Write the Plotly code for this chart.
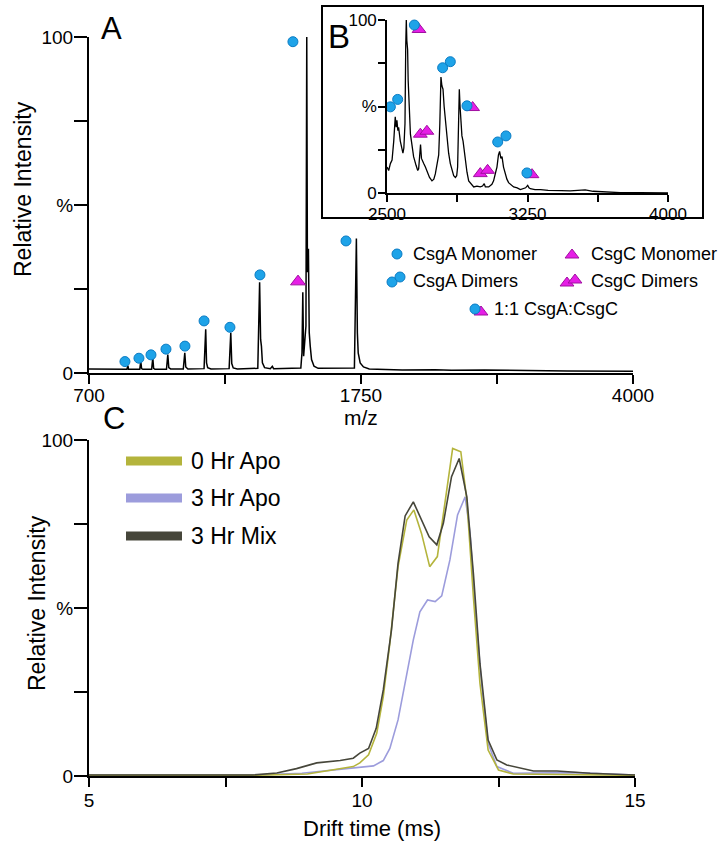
import plotly.graph_objects as go

W, H = 721, 841
FONT = "Liberation Sans, Arial, sans-serif"

# ---------------- Panel A: full mass spectrum ----------------
a_mz = [700, 800, 930, 936, 940, 1008, 1014, 1019, 1026, 1080, 1087, 1092, 1100,
        1170, 1178, 1184, 1195, 1272, 1281, 1287, 1300, 1398, 1408, 1413, 1420, 1440,
        1550, 1560, 1566, 1575, 1600, 1724, 1735, 1741, 1746, 1752, 1765, 1800, 1812, 1820,
        1985, 1992, 1997, 2002, 2010, 2016, 2021, 2025, 2031, 2036, 2042, 2050, 2065, 2090,
        2310, 2322, 2328, 2333, 2345, 2365, 2400, 2600, 2800, 2900, 3100, 3300, 3600, 4000]
a_int = [1.2, 1.1, 1.1, 2.2, 1.1, 1.1, 3.5, 1.3, 1.1, 1.1, 4.5, 1.4, 1.1,
         1.1, 5.5, 1.6, 1.2, 1.2, 6.0, 1.8, 1.2, 1.3, 13.0, 3.0, 1.6, 1.2,
         1.3, 12.0, 2.8, 1.5, 1.2, 1.4, 27.0, 10.0, 8.0, 3.0, 1.6, 1.3, 2.0, 1.3,
         1.5, 6.0, 24.0, 5.0, 10.0, 14.0, 100.0, 30.0, 37.0, 12.0, 8.0, 4.0, 2.0, 1.4,
         1.5, 40.0, 12.0, 6.0, 3.0, 1.8, 1.2, 0.9, 1.0, 0.8, 0.9, 0.7, 0.6, 0.5]
a_mono_mz = [918, 1003, 1076, 1167, 1282, 1398, 1555, 1737, 1937, 2259]
a_mono_int = [3.4, 4.4, 5.4, 7.1, 8.0, 15.5, 13.6, 29.2, 98.6, 39.3]
a_csgc_mz = [1968]
a_csgc_int = [27.2]
a_xticks = [700, 1525, 2350, 3175, 4000]
a_xtext = ["700", "", "1750", "", "4000"]
pct_ticks = [0, 25, 50, 75, 100]
pct_text = ["0", "", "%", "", "100"]

# ---------------- Panel B: inset 2500-4000 ----------------
b_mz = [2500, 2509, 2518, 2527, 2536, 2544, 2549, 2553, 2558, 2562, 2571, 2580, 2585, 2590,
        2596, 2600, 2603, 2606, 2610, 2613, 2616, 2620, 2625, 2633, 2642, 2655, 2664, 2669,
        2674, 2679, 2684, 2690, 2696, 2705, 2713, 2727, 2740, 2750, 2758, 2768, 2776, 2782,
        2788, 2793, 2799, 2805, 2811, 2820, 2829, 2838, 2847, 2856, 2865, 2872, 2877, 2882,
        2886, 2890, 2895, 2900, 2906, 2912, 2918, 2927, 2936, 2950, 2963, 2980, 2998, 3010,
        3019, 3025, 3043, 3060, 3069, 3080, 3087, 3095, 3101, 3108, 3114, 3122, 3132, 3140,
        3149, 3162, 3176, 3195, 3212, 3240, 3251, 3258, 3265, 3290, 3320, 3360, 3390, 3430,
        3478, 3520, 3558, 3600, 3656, 3700, 3745, 3850, 4000]
b_int = [15, 13, 17, 19, 30, 44, 38, 42, 36, 38, 30, 24, 23, 26,
         40, 85, 100, 88, 83, 65, 54, 42, 34, 28, 21, 16, 13, 14,
         22, 28, 20, 18, 17, 15, 13, 9, 7, 8, 11, 16, 22, 40,
         67, 62, 60, 50, 42, 32, 23, 17, 13, 10, 9, 10, 15, 35,
         60, 50, 38, 33, 30, 24, 19, 12, 7, 5, 3.5, 4, 3.5, 4,
         5.4, 3.5, 3.5, 5, 7, 12, 15, 22, 24, 20, 21, 15, 11, 8,
         6, 4.5, 3.5, 3, 2, 3, 4.4, 3, 2.5, 2, 2, 1.5, 1.6, 1.4,
         1.2, 1.5, 1.8, 1.0, 0.6, 0.5, 0.2, 0.2, 0.1]
b_csga_mz = [2518, 2557, 2646, 2797, 2838, 2927, 3091, 3135, 3247]
b_csga_int = [49.8, 54.1, 97.1, 72.4, 75.9, 50.4, 29.5, 33.0, 11.6]
b_csgc_mz = [2671, 2678, 2713, 2957, 2998, 3037, 3274]
b_csgc_int = [94.5, 34.0, 35.7, 49.4, 11.2, 13.1, 10.6]
b_xticks = [2500, 2875, 3250, 3625, 4000]
b_xtext = ["2500", "", "3250", "", "4000"]

# ---------------- Panel C: arrival time distributions ----------------
c_names = ["0 Hr Apo", "3 Hr Apo", "3 Hr Mix"]
c_colors = ["#b4b43c", "#9c9cdc", "#46463a"]
c0_t = [5.0, 8.0, 9.0, 9.47, 9.6, 9.84, 9.96, 10.12, 10.27, 10.39, 10.51, 10.66, 10.82, 10.95,
        11.09, 11.24, 11.38, 11.49, 11.66, 11.81, 11.92, 12.04, 12.16, 12.31, 12.5, 12.77, 13.5, 15.0]
c0_i = [0.2, 0.2, 0.6, 1.8, 2.0, 2.8, 3.9, 6.3, 12.7, 23.6, 39.5, 62.3, 76.2, 79.2,
        72.2, 62.3, 65.3, 78.2, 97.5, 96.5, 82.1, 53.4, 27.6, 7.7, 1.8, 0.6, 0.4, 0.2]
c1_t = [5.0, 8.0, 8.9, 9.6, 10.0, 10.21, 10.39, 10.51, 10.66, 10.82, 10.94, 11.06, 11.2, 11.34,
        11.46, 11.61, 11.75, 11.89, 11.98, 12.07, 12.19, 12.31, 12.47, 12.77, 13.87, 15.0]
c1_i = [0.3, 0.3, 0.8, 2.0, 2.6, 3.0, 4.6, 8.2, 16.7, 30.6, 40.5, 48.9, 52.4, 51.9,
        53.6, 64.3, 77.7, 83.1, 72.2, 50.4, 27.6, 9.7, 2.8, 0.8, 1.0, 0.3]
c2_t = [5.0, 8.0, 8.44, 8.8, 9.17, 9.6, 9.84, 9.96, 10.12, 10.26, 10.39, 10.54, 10.66, 10.79,
        10.94, 11.09, 11.23, 11.37, 11.49, 11.64, 11.78, 11.92, 12.04, 12.16, 12.31, 12.47,
        12.65, 13.14, 13.57, 14.18, 15.0]
c2_i = [0.3, 0.3, 0.9, 2.2, 3.9, 4.6, 5.3, 6.8, 8.2, 14.2, 25.6, 43.5, 63.3, 77.4,
        81.6, 76.2, 71.2, 68.8, 75.2, 89.1, 94.5, 83.1, 60.3, 33.5, 10.7, 4.8,
        3.3, 1.5, 1.5, 0.8, 0.3]
c_xticks = [5, 7.5, 10, 12.5, 15]
c_xtext = ["5", "", "10", "", "15"]

BLUE, BLUE_LINE = "#1ea3e8", "#0b7cc4"
MAG, MAG_LINE = "#e61ee6", "#a010a0"


def px(x):
    return x / W


def py(y):
    return 1 - y / H


fig = go.Figure()

# Panel A traces
fig.add_trace(go.Scatter(x=a_mz, y=a_int, mode="lines", line=dict(color="black", width=1.5),
                         xaxis="x", yaxis="y", showlegend=False))
fig.add_trace(go.Scatter(x=a_csgc_mz, y=a_csgc_int, mode="markers", cliponaxis=False,
                         marker=dict(symbol="triangle-up", size=13, color=MAG,
                                     line=dict(color=MAG_LINE, width=1)),
                         xaxis="x", yaxis="y", showlegend=False))
fig.add_trace(go.Scatter(x=a_mono_mz, y=a_mono_int, mode="markers", cliponaxis=False,
                         marker=dict(symbol="circle", size=10, color=BLUE,
                                     line=dict(color=BLUE_LINE, width=1)),
                         xaxis="x", yaxis="y", showlegend=False))

# Panel B traces
fig.add_trace(go.Scatter(x=b_mz, y=b_int, mode="lines", line=dict(color="black", width=1.3),
                         xaxis="x2", yaxis="y2", showlegend=False))
fig.add_trace(go.Scatter(x=b_csgc_mz, y=b_csgc_int, mode="markers", cliponaxis=False,
                         marker=dict(symbol="triangle-up", size=12, color=MAG,
                                     line=dict(color=MAG_LINE, width=1)),
                         xaxis="x2", yaxis="y2", showlegend=False))
fig.add_trace(go.Scatter(x=b_csga_mz, y=b_csga_int, mode="markers", cliponaxis=False,
                         marker=dict(symbol="circle", size=10, color=BLUE,
                                     line=dict(color=BLUE_LINE, width=1)),
                         xaxis="x2", yaxis="y2", showlegend=False))

# Panel C traces
for t, i, col in [(c1_t, c1_i, c_colors[1]), (c0_t, c0_i, c_colors[0]), (c2_t, c2_i, c_colors[2])]:
    fig.add_trace(go.Scatter(x=t, y=i, mode="lines", line=dict(color=col, width=1.6),
                             xaxis="x3", yaxis="y3", showlegend=False))

# Legend glyphs for panel A (pixel overlay)
leg_tri_x = [572, 567, 575, 481]
leg_tri_y = [255, 283, 280, 312]
leg_cir_x = [397, 392, 400, 475]
leg_cir_y = [254, 282, 277, 309]
fig.add_trace(go.Scatter(x=leg_tri_x, y=leg_tri_y, mode="markers", cliponaxis=False,
                         marker=dict(symbol="triangle-up", size=12, color=MAG,
                                     line=dict(color=MAG_LINE, width=1)),
                         xaxis="x4", yaxis="y4", showlegend=False, hoverinfo="skip"))
fig.add_trace(go.Scatter(x=leg_cir_x, y=leg_cir_y, mode="markers", cliponaxis=False,
                         marker=dict(symbol="circle", size=10, color=BLUE,
                                     line=dict(color=BLUE_LINE, width=1)),
                         xaxis="x4", yaxis="y4", showlegend=False, hoverinfo="skip"))

axis_common = dict(showgrid=False, zeroline=False, showline=True, linecolor="black",
                   linewidth=2, ticks="outside", tickcolor="black", tickwidth=2,
                   automargin=False, ticklabelstandoff=-3,
                   tickfont=dict(family=FONT, size=19, color="black"))
b_font = dict(family=FONT, size=17, color="black")

fig.update_layout(
    template="none",
    width=W, height=H, margin=dict(l=0, r=0, t=0, b=0, pad=0, autoexpand=False),
    paper_bgcolor="white", plot_bgcolor="rgba(0,0,0,0)", showlegend=False,
    xaxis=dict(axis_common, domain=[px(89), px(633)], range=[700, 4000], anchor="y",
               tickmode="array", tickvals=a_xticks, ticktext=a_xtext, ticklen=9,
               ticklabelstandoff=-5),
    yaxis=dict(axis_common, domain=[py(373), py(37)], range=[0, 100], anchor="x",
               tickmode="array", tickvals=pct_ticks, ticktext=pct_text, ticklen=13),
    xaxis2=dict(axis_common, domain=[px(387), px(668)], range=[2500, 4000], anchor="y2",
                tickmode="array", tickvals=b_xticks, ticktext=b_xtext, ticklen=7,
                linewidth=1.6, tickwidth=1.6, tickfont=b_font, ticklabelstandoff=-2),
    yaxis2=dict(axis_common, domain=[py(193), py(20)], range=[0, 100], anchor="x2",
                tickmode="array", tickvals=pct_ticks, ticktext=pct_text, ticklen=7,
                linewidth=1.6, tickwidth=1.6, tickfont=b_font, ticklabelstandoff=-2),
    xaxis3=dict(axis_common, domain=[px(89), px(635)], range=[5, 15], anchor="y3",
                tickmode="array", tickvals=c_xticks, ticktext=c_xtext, ticklen=9),
    yaxis3=dict(axis_common, domain=[py(776), py(440)], range=[0, 100], anchor="x3",
                tickmode="array", tickvals=pct_ticks, ticktext=pct_text, ticklen=13),
    xaxis4=dict(domain=[0, 1], range=[0, W], visible=False, anchor="y4", automargin=False),
    yaxis4=dict(domain=[0, 1], range=[H, 0], visible=False, anchor="x4", automargin=False),
)

# Inset box
fig.add_shape(type="rect", xref="paper", yref="paper", x0=px(322), x1=px(703),
              y0=py(218), y1=py(6), line=dict(color="black", width=2),
              fillcolor="white", layer="below")

# Panel C legend keys
for yk, col in zip([461, 498, 536], c_colors):
    fig.add_shape(type="line", xref="paper", yref="paper", x0=px(126), x1=px(182),
                  y0=py(yk), y1=py(yk), line=dict(color=col, width=9))


def ann(text, x, y, size, xanchor="center", angle=0):
    fig.add_annotation(text=text, xref="paper", yref="paper", x=px(x), y=py(y),
                       xanchor=xanchor, yanchor="middle", showarrow=False, textangle=angle,
                       borderpad=0,
                       font=dict(family=FONT, size=size, color="black"))


ann("A", 112, 28, 31)
ann("B", 339, 37, 33)
ann("C", 114, 419, 31)
ann("Relative Intensity", 23, 189, 23, angle=-90)
ann("Relative Intensity", 37, 603, 23, angle=-90)
ann("m/z", 361, 417, 21)
ann("Drift time (ms)", 372, 828, 22)

ann("CsgA Monomer", 412, 254, 18, xanchor="left")
ann("CsgC Monomer", 590, 254, 18, xanchor="left")
ann("CsgA Dimers", 412, 281, 18, xanchor="left")
ann("CsgC Dimers", 590, 281, 18, xanchor="left")
ann("1:1 CsgA:CsgC", 493, 309, 18, xanchor="left")

for yk, name in zip([461, 498, 536], c_names):
    ann(name, 190, yk, 23, xanchor="left")

fig.write_html("out.html", config={"displayModeBar": False},
               post_script="document.body.style.margin='0';document.body.style.overflow='hidden';")
